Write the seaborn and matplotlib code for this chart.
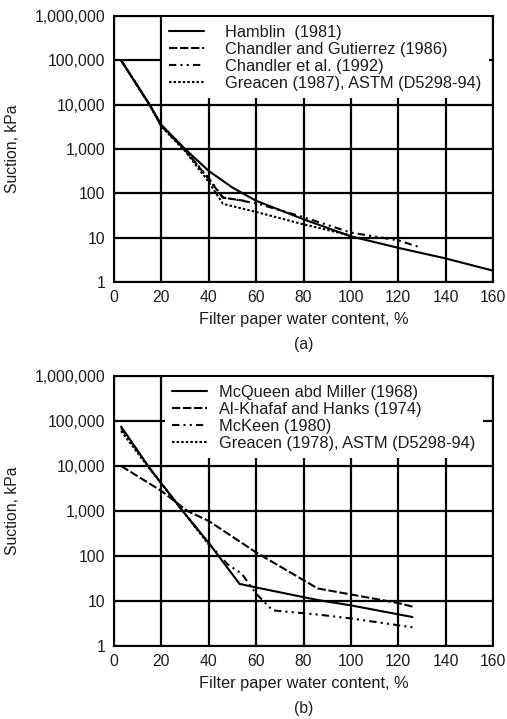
import numpy as np
import pandas as pd
import seaborn as sns
from matplotlib import pyplot as plt
from matplotlib.ticker import FixedLocator, FuncFormatter, NullLocator

# (a) filter paper calibration curves
ham_x = [3, 15, 20, 30, 40, 50, 60, 80, 100, 120, 140, 160]
ham_y = [100000, 10000, 3500, 1000, 320, 135, 68, 26, 10.7, 5.9, 3.4, 1.8]
cg_x = [3, 15, 20, 30, 40, 46, 55]
cg_y = [100000, 10000, 3300, 950, 210, 80, 68]
ch92_x = [3, 15, 20, 30, 40, 46, 60, 80, 100, 120, 129]
ch92_y = [100000, 10000, 3300, 950, 220, 80, 60, 29, 13, 8.7, 6.1]
gr87_x = [3, 15, 20, 30, 40, 46, 60, 80, 100]
gr87_y = [100000, 10000, 3200, 900, 180, 58, 38, 20, 11.2]

# (b)
mq_x = [3, 15, 29, 40, 53, 60, 86, 100, 126]
mq_y = [75000, 9000, 1000, 195, 24, 20, 10.5, 8, 4.4]
ak_x = [3, 20, 31, 40, 60, 86, 120, 126]
ak_y = [10000, 2800, 1000, 600, 120, 19, 9, 7.5]
mk_x = [3, 15, 29, 40, 48, 54, 60, 67, 86, 100, 126]
mk_y = [70000, 9000, 1000, 190, 65, 40, 14.5, 6.2, 5.0, 4.1, 2.6]
gr78_x = [3, 13, 29, 40]
gr78_y = [60000, 12000, 1000, 180]

labels_a = ['Hamblin  (1981)', 'Chandler and Gutierrez (1986)',
            'Chandler et al. (1992)', 'Greacen (1987), ASTM (D5298-94)']
labels_b = ['McQueen abd Miller (1968)', 'Al-Khafaf and Hanks (1974)',
            'McKeen (1980)', 'Greacen (1978), ASTM (D5298-94)']

yticks = [1, 10, 100, 1000, 10000, 100000, 1000000]
xticks = list(range(0, 161, 20))

solid = '-'
dashed = (0, (4, 1.3))
dashdot = (0, (3.5, 2, 1, 2, 1, 2))
dotted = (0, (1.2, 1.0))

sns.set_theme(style='white')
plt.rcParams['font.family'] = ['Liberation Sans', 'DejaVu Sans']
FS = 11.3
LFS = 11.8
TXT = '#1c1c1c'

fig = plt.figure(figsize=(5.07, 7.19), dpi=100)
ax_a = fig.add_axes([114/507, 1-282/719, 379/507, 266/719])
ax_b = fig.add_axes([114/507, 1-646/719, 379/507, 270/719])
caption_txt = {ax_a: '(a)', ax_b: '(b)'}


def draw(ax, series, labels, leg_left, textpad, caption):
    for (x, y, ls), lab in zip(series, labels):
        sns.lineplot(x=x, y=y, ax=ax, color='black', linewidth=1.5,
                     linestyle=ls, label=lab)
    ax.set_yscale('log')
    ax.set_xlim(0, 160)
    ax.set_ylim(1, 1000000)
    ax.yaxis.set_major_locator(FixedLocator(yticks))
    ax.yaxis.set_minor_locator(NullLocator())
    ax.yaxis.set_major_formatter(FuncFormatter(lambda v, p: f'{int(round(v)):,}'))
    ax.set_xticks(xticks)
    ax.grid(True, which='major', color='black', linewidth=1.6, zorder=0)
    ax.set_axisbelow(True)
    for s in ax.spines.values():
        s.set_color('black')
        s.set_linewidth(1.5)
    ax.tick_params(which='major', direction='in', top=True, right=True,
                   length=4, width=1.2, color='black', labelsize=FS,
                   labelcolor=TXT, pad=6)
    ax.set_xlabel('Filter paper water content, %', fontsize=LFS,
                  color=TXT, labelpad=5)
    ax.set_ylabel('Suction, kPa', fontsize=FS, color=TXT, labelpad=11)
    leg = ax.legend(loc='upper left', bbox_to_anchor=(leg_left, 0.995),
                    fontsize=LFS, frameon=True, fancybox=False, framealpha=1,
                    facecolor='white', edgecolor='none', borderpad=0.45,
                    borderaxespad=0, handlelength=2.1, handletextpad=textpad,
                    labelspacing=0.12)
    for t in leg.get_texts():
        t.set_color(TXT)
    ax.text(0.5, caption, caption_txt[ax], transform=ax.transAxes,
            ha='center', va='center', fontsize=FS, color=TXT)


draw(ax_a, [(ham_x, ham_y, solid), (cg_x, cg_y, dashed),
            (ch92_x, ch92_y, dashdot), (gr87_x, gr87_y, dotted)],
     labels_a, (162-114)/379, 1.3, -(345-282)/266)
draw(ax_b, [(mq_x, mq_y, solid), (ak_x, ak_y, dashed),
            (mk_x, mk_y, dashdot), (gr78_x, gr78_y, dotted)],
     labels_b, (165-114)/379, 0.75, -(708-646)/270)

fig.savefig('out.png', dpi=100)
